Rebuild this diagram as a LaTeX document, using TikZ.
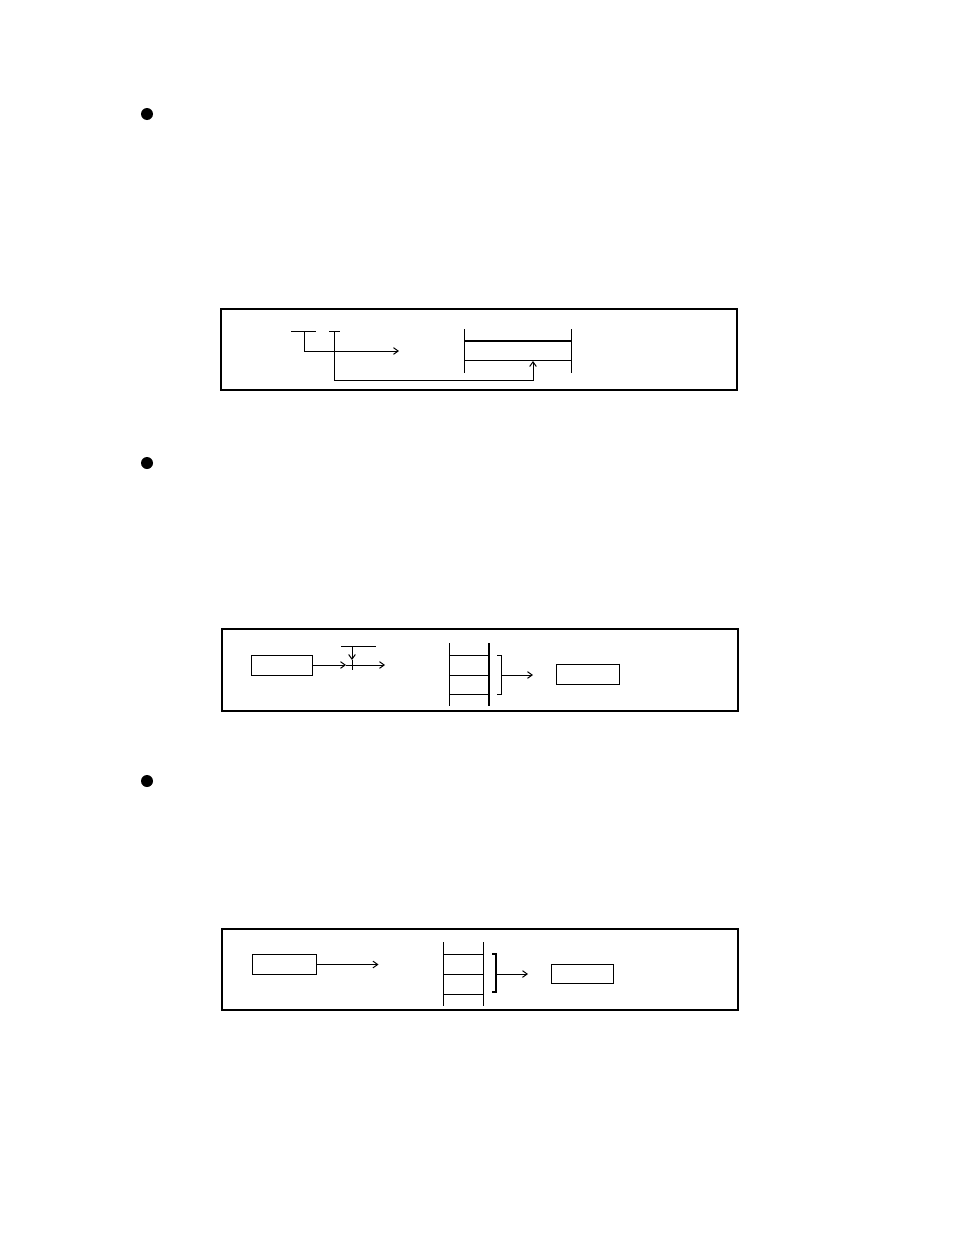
\documentclass[tikz,border=0pt]{standalone}
\usetikzlibrary{arrows.meta}
\begin{document}
\begin{tikzpicture}[x=0.75pt,y=-0.75pt,
  thin line/.style={line width=0.75pt},
  rbox/.style={draw,line width=0.75pt,inner sep=0pt,minimum width=45.75pt,minimum height=15pt},
  arr/.style={line width=0.75pt,-{Straight Barb[length=3.5pt,width=5pt]}},
  bullet/.style={circle,fill=black,inner sep=0pt,minimum size=9pt}]
\useasboundingbox (0,0) rectangle (954,1235);
% bullets
\node[bullet] (b1) at (147,114) {};
\node[bullet] (b2) at (147,463) {};
\node[bullet] (b3) at (147,781) {};
% ---------- panel 1 ----------
\draw[line width=1.5pt] (221,309) rectangle (737,390);
\coordinate (t1a) at (291,331); \coordinate (t1b) at (316,331); \coordinate (t1c) at (304,331);
\coordinate (t2a) at (329,331); \coordinate (t2b) at (340,331); \coordinate (t2c) at (334,331);
\draw[thin line] (t1a) -- (t1b);
\draw[thin line] (t2a) -- (t2b);
\coordinate (a1end) at (399,351);
\draw[arr] (t1c) |- (a1end);
\coordinate (reg) at (533,361);
\draw[arr] (t2c) -- (334,380) -| (reg);
\draw[thin line] (464,329) -- (464,373);
\draw[thin line] (571,329) -- (571,373);
\draw[line width=1.3pt] (464,341) -- (571,341);
\draw[thin line] (464,360) -- (571,360);
% ---------- panel 2 ----------
\draw[line width=1.5pt] (222,629) rectangle (738,711);
\node[rbox] (r2a) at (281.5,665) {};
\draw[thin line] (352,660) -- (352,670);
\draw[arr] (r2a.east) -- (346,665);
\draw[thin line] (346,665) -- (357,665);
\draw[arr] (357,665) -- (385,665);
\coordinate (top2) at (352,646);
\draw[thin line] (341,646) -- (376,646);
\draw[arr] (top2) -- (352,660);
% stack
\draw[thin line] (449,643) -- (449,706);
\draw[line width=1pt] (489,643) -- (489,706);
\foreach \yy in {655,675,694} \draw[thin line] (449,\yy) -- (489,\yy);
\draw[thin line] (497,655) -- (501,655) -- (501,694) -- (497,694);
\coordinate (br2) at (501,675);
\node[draw,line width=0.75pt,inner sep=0pt,minimum width=47.25pt,minimum height=15pt] (r2b) at (587.5,674) {};
\draw[line width=1.4pt] (r2b.north east) -- (r2b.south east);
\draw[arr] (br2) -- (533,675);
% ---------- panel 3 ----------
\draw[line width=1.5pt] (222,929) rectangle (738,1010);
\node[rbox,minimum width=48pt] (r3a) at (284,964.5) {};
\draw[arr] (r3a.east) -- ++(62,0);
\draw[thin line] (443,942) -- (443,1006);
\draw[thin line] (483,942) -- (483,1006);
\foreach \yy in {954,974,994} \draw[thin line] (443,\yy) -- (483,\yy);
\draw[line width=1.3pt] (492,954) -- (496,954) -- (496,992) -- (492,992);
\coordinate (br3) at (496,974);
\node[rbox,minimum width=46.5pt,minimum height=14.25pt] (r3b) at (582,973.5) {};
\draw[arr] (br3) -- (528,974);
\end{tikzpicture}
\end{document}
